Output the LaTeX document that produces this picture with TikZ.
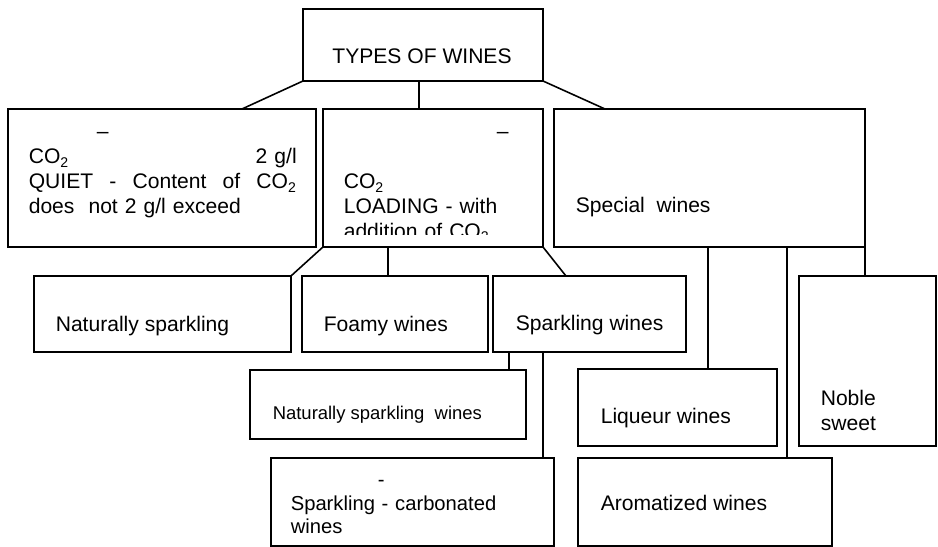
\documentclass[tikz,border=0pt]{standalone}
\usepackage{fontspec}
\setmainfont{Liberation Sans}
\usetikzlibrary{positioning}

\begin{document}
\begin{tikzpicture}[x=0.02cm, y=-0.02cm, line width=0.9pt,
	box/.style={rectangle, draw, anchor=north west, inner sep=0pt, outer sep=0pt},
	txt/.style={anchor=base west, inner sep=0pt, align=left, font=\fontsize{12}{14.2}\selectfont}]
	\useasboundingbox (0,0) rectangle (938,547);
	% boxes
	\node[box, minimum width=4.8cm, minimum height=1.44cm] (types) at (303,9) {};
	\node[box, minimum width=6.16cm, minimum height=2.76cm] (still) at (8,109) {};
	\node[box, minimum width=4.4cm, minimum height=2.76cm] (loaded) at (323,109) {};
	\node[box, minimum width=6.22cm, minimum height=2.76cm] (special) at (554,109) {};
	\node[box, minimum width=5.14cm, minimum height=1.52cm] (natural) at (34,276) {};
	\node[box, minimum width=3.72cm, minimum height=1.52cm] (foamy) at (302,276) {};
	\node[box, minimum width=3.86cm, minimum height=1.52cm] (sparkling) at (493,276) {};
	\node[box, minimum width=2.74cm, minimum height=3.4cm] (noble) at (799,276) {};
	\node[box, minimum width=5.52cm, minimum height=1.38cm] (natsp) at (250,370) {};
	\node[box, minimum width=5.66cm, minimum height=1.76cm] (carbon) at (271,458) {};
	\node[box, minimum width=3.98cm, minimum height=1.54cm] (liqueur) at (578,369) {};
	\node[box, minimum width=5.08cm, minimum height=1.76cm] (aroma) at (578,458) {};
	% texts
	\node[txt, anchor=base] (types-t) at (422,64) {TYPES OF WINES};
	\node[txt, text width=5.36cm] (still-t) at (28,139) {\hspace*{1.36cm}--\\CO\textsubscript{2}\hfill 2 g/l\hspace*{0.72cm}\\QUIET\hfill -\hfill Content\hfill of\hfill CO\textsubscript{2}\\does\ \ not 2 g/l exceed};
	\begin{scope}
		\clip (323,109) rectangle (543,235);
		\node[txt, text width=4cm] (loaded-t) at (343,139) {\hspace*{3.06cm}--\\[0.5cm]CO\textsubscript{2}\\LOADING - with\\addition of CO\textsubscript{2}};
	\end{scope}
	\node[txt] (special-t) at (575,213) {Special\ \ wines};
	\node[txt] (natural-t) at (55,332) {Naturally sparkling};
	\node[txt] (foamy-t) at (323,332) {Foamy wines};
	\node[txt] (sparkling-t) at (515,331) {Sparkling wines};
	\node[txt, font=\fontsize{10.5}{12.6}\selectfont] (natsp-t) at (272,420) {Naturally sparkling\ \ wines};
	\node[txt, text width=5cm, font=\fontsize{11.5}{13.1}\selectfont] (carbon-t) at (290,487) {\hspace*{1.74cm}-\\Sparkling - carbonated\\wines};
	\node[txt] (liqueur-t) at (600,424) {Liqueur wines};
	\node[txt] (aroma-t) at (600,511) {Aromatized wines};
	\node[txt, text width=2cm, font=\fontsize{12}{13.7}\selectfont] (noble-t) at (820,406) {Noble\\sweet};
	% connectors
	\coordinate (ty-l) at ([xshift=-1.48cm]still.north east);
	\coordinate (ty-m) at ([xshift=-0.08cm]types.south);
	\coordinate (ty-r) at ([xshift=1.02cm]special.north west);
	\draw (types.south west) -- (ty-l);
	\draw (ty-m) -- (ty-m |- loaded.north);
	\draw (types.south east) -- (ty-r);
	\coordinate (ld-m) at ([xshift=-0.14cm]foamy.north);
	\coordinate (ld-r) at ([xshift=1.46cm]sparkling.north west);
	\draw (loaded.south west) -- (natural.north east);
	\draw (ld-m |- loaded.south) -- (ld-m);
	\draw (loaded.south east) -- (ld-r);
	\coordinate (sp-a) at ([xshift=0.32cm]sparkling.south west);
	\coordinate (sp-b) at ([xshift=1cm]sparkling.south west);
	\draw (sp-a) -- (sp-a |- natsp.north);
	\draw (sp-b) -- (sp-b |- carbon.north);
	\coordinate (sw-a) at ([xshift=-1.38cm]liqueur.north east);
	\coordinate (sw-b) at ([xshift=-0.9cm]aroma.north east);
	\draw (sw-a |- special.south) -- (sw-a);
	\draw (sw-b |- special.south) -- (sw-b);
	\draw (special.south east) -- (special.south east |- noble.north);
\end{tikzpicture}
\end{document}
